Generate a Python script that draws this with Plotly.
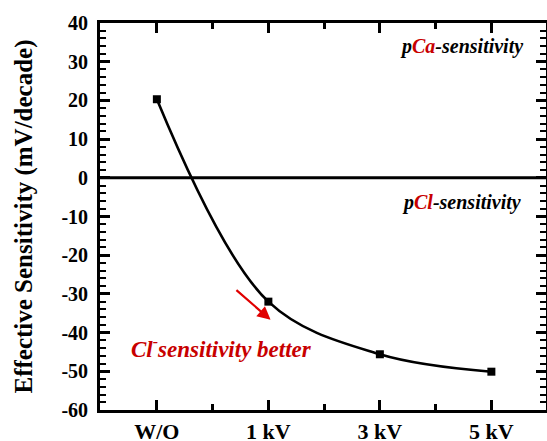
import plotly.graph_objects as go

categories = ["W/O", "1 kV", "3 kV", "5 kV"]
sensitivity = [20.3, -32.0, -45.6, -50.1]
y_ticks = [-60, -50, -40, -30, -20, -10, 0, 10, 20, 30, 40]

RED = "#c80000"
SERIF = "'Liberation Serif', 'Times New Roman', serif"

xi = list(range(len(categories)))

fig = go.Figure()
fig.add_trace(go.Scatter(
    x=xi, y=sensitivity, mode="lines+markers",
    line=dict(color="black", width=2.6, shape="spline", smoothing=1.0),
    marker=dict(symbol="square", size=8, color="black"),
    showlegend=False, hoverinfo="skip",
))

fig.add_hline(y=0, line=dict(color="black", width=3))

fig.update_layout(
    width=547, height=441,
    margin=dict(l=100, r=1, t=23, b=31, autoexpand=False),
    paper_bgcolor="white", plot_bgcolor="white",
    font=dict(family=SERIF, color="black", weight="bold"),
)

fig.update_xaxes(
    range=[-0.51, 3.49], tickmode="array", tickvals=xi,
    ticktext=categories,
    ticks="inside", ticklen=10, tickwidth=2.5, tickcolor="black",
    showline=True, linewidth=2.8, linecolor="black", mirror="allticks",
    showgrid=False, zeroline=False, automargin=False,
    tickfont=dict(family=SERIF, size=22, weight="bold"),
    minor=dict(tickmode="array", tickvals=[0.5, 1.5, 2.5], ticks="inside",
               ticklen=6, tickwidth=2.5, tickcolor="black"),
)
fig.update_yaxes(
    range=[-60, 40], tickmode="array", tickvals=y_ticks,
    ticktext=[str(v) for v in y_ticks],
    ticks="inside", ticklen=10, tickwidth=2.5, tickcolor="black",
    showline=True, linewidth=2.8, linecolor="black", mirror="allticks",
    showgrid=False, zeroline=False, automargin=False,
    tickfont=dict(family=SERIF, size=20, weight="bold"), ticklabelstandoff=5,
    minor=dict(dtick=2, tick0=0, ticks="inside", ticklen=6, tickwidth=2.2,
               tickcolor="black"),
    title=dict(text="Effective Sensitivity (mV/decade)",
               font=dict(family=SERIF, size=25, weight="bold"), standoff=22),
)

ann_font = dict(family=SERIF, size=20, color="black", weight="bold", style="italic")
fig.add_annotation(
    xref="paper", yref="paper", x=0.953, y=0.938, xanchor="right", yanchor="middle",
    text='p<span style="color:%s">Ca</span>-sensitivity' % RED,
    showarrow=False, font=ann_font,
)
fig.add_annotation(
    xref="paper", yref="paper", x=0.948, y=0.535, xanchor="right", yanchor="middle",
    text='p<span style="color:%s">Cl</span>-sensitivity' % RED,
    showarrow=False, font=ann_font,
)
fig.add_annotation(
    xref="paper", yref="paper", x=0.064, y=0.162, xanchor="left", yanchor="middle",
    text="Cl<sup>-</sup>sensitivity better",
    showarrow=False,
    font=dict(family=SERIF, size=23, color=RED, weight="bold", style="italic"),
)
fig.add_annotation(
    x=1.02, y=-36.7, ax=0.70, ay=-28.7, xref="x", yref="y", axref="x", ayref="y",
    text="", showarrow=True, arrowhead=2, arrowsize=1.2, arrowwidth=2.2,
    arrowcolor="#e00000",
)

fig.write_html("out.html", config={"displayModeBar": False},
               post_script="document.body.style.margin='0';")
